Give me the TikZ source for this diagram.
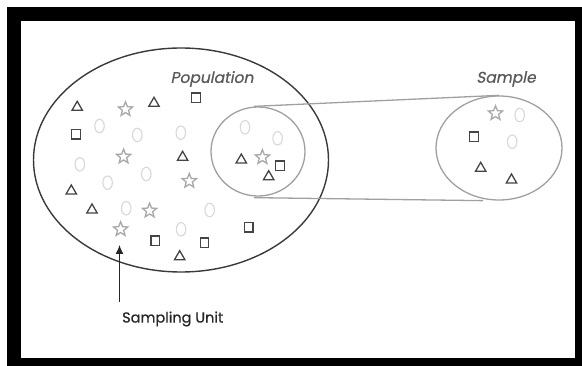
\documentclass[tikz,border=0pt]{standalone}
\usepackage{fontspec}
\usetikzlibrary{shapes.geometric,arrows.meta}
\newfontfamily\lblfont[FakeBold=0.6]{Poppins}
\newfontfamily\lblslant[FakeSlant=0.2,FakeBold=0.6]{Poppins}
\definecolor{markdark}{HTML}{454545}
\definecolor{markstar}{HTML}{A8A8A8}
\definecolor{markoval}{HTML}{D8D8D8}
\definecolor{ringgray}{HTML}{A0A0A0}
\definecolor{popline}{HTML}{3A3A3A}
\begin{document}
\begin{tikzpicture}[x=1pt,y=-1pt,
  tri/.style={regular polygon,regular polygon sides=3,draw=markdark,line width=1.3pt,inner sep=0pt,minimum size=12pt},
  sq/.style={rectangle,draw=markdark,line width=1.2pt,inner sep=0pt,minimum width=8.5pt,minimum height=9.5pt},
  st/.style={star,star points=5,star point ratio=2.3,draw=markstar,line width=1.3pt,inner sep=0pt,minimum size=15pt},
  ov/.style={ellipse,draw=markoval,line width=1.1pt,inner sep=0pt,minimum width=9.5pt,minimum height=13.5pt},
  ring/.style={ellipse,draw=ringgray,line width=1.3pt,inner sep=0pt},
  label/.style={inner sep=0pt}]
\useasboundingbox (0,0) rectangle (582,366);
% frame
\fill[black] (7,7) rectangle (582,366);
\fill[white] (21,21) rectangle (575,358);

% population, sub-sample and sample outlines
\node[ellipse,draw=popline,line width=1.4pt,inner sep=0pt,minimum width=295pt,minimum height=224pt] (pop) at (181,160) {};
\node[ring,minimum width=94pt,minimum height=89pt] (sub) at (258,151.5) {};
\node[ring,minimum width=126pt,minimum height=104pt] (samp) at (499,148) {};
\draw[ringgray,line width=1.3pt] (sub.north) ++(-4,0) coordinate (subtop) -- (samp.north);
\draw[ringgray,line width=1.3pt] (sub.south) ++(-4,1) coordinate (subbot) -- ([xshift=-16pt]samp.south);

% labels
\node[label,text=black!65,font=\lblslant\fontsize{15.5}{15.5}\selectfont] (poplbl) at (212,79) {Population};
\node[label,text=black!65,font=\lblslant\fontsize{15.5}{15.5}\selectfont] (samplbl) at (506,79) {Sample};
\node[label,text=black!85,font=\lblfont\fontsize{14.5}{14.5}\selectfont,anchor=west] (unitlbl) at (122,319) {Sampling Unit};
\coordinate (unitfoot) at (119.5,302);
\coordinate (unittip) at (119.5,245);
\draw[black!85,line width=1.2pt,-{Latex[length=9pt,width=8pt]}] (unitfoot) -- (unittip);

% ovals
\foreach \x/\y [count=\i] in {99.5/126,137.3/135,180.8/132.7,79.8/164.3,107.6/182.7,146.3/174,126.2/208.3,209.7/210,181.1/229.3,245/127.3,277.6/138.3,519.7/115,512.2/141.7}
  \node[ov] (ov\i) at (\x,\y) {};
% stars
\foreach \x/\y [count=\i] in {125.5/109.3,123.6/156.7,189.3/181,149.6/210.7,120.6/229.3,262.4/157.3,495.5/113.3}
  \node[st] (st\i) at (\x,\y) {};
% squares
\foreach \x/\y [count=\i] in {196/97.7,76.1/134.3,280/165.7,155.2/240.7,204.5/242.7,248.7/227.3,474/136.7}
  \node[sq] (sq\i) at (\x,\y) {};
% triangles
\foreach \x/\y [count=\i] in {77.2/107.3,154/103.3,182.6/157.3,71.3/191,92/210,179.7/256.7,241.3/160,268.7/176.7,480.7/168.3,511.5/180}
  \node[tri] (tr\i) at (\x,\y) {};
\end{tikzpicture}
\end{document}
